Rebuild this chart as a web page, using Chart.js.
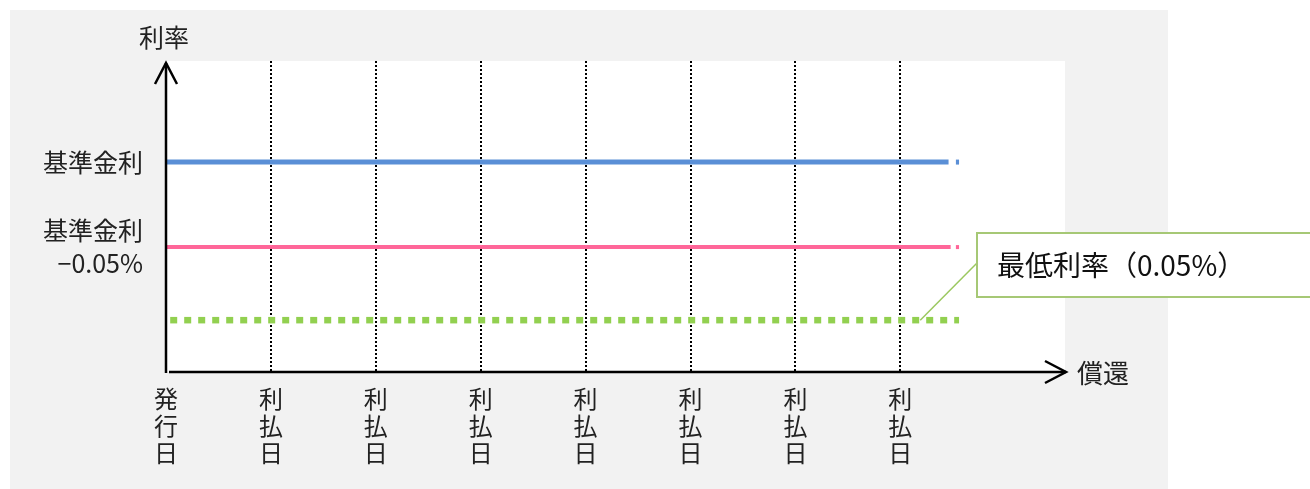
<!DOCTYPE html>
<html>
<head>
<meta charset="utf-8">
<script src="https://cdn.jsdelivr.net/npm/chart.js@4"></script>
<style>
  html, body { margin: 0; padding: 0; background: #ffffff; }
  #wrap { width: 1310px; height: 489px; }
</style>
</head>
<body>
<div id="wrap"><canvas id="myChart" width="1310" height="489"></canvas></div>
<script>
// 横軸の日付ラベル（発行日と利払日）
const fechas = ['発行日', '利払日', '利払日', '利払日', '利払日', '利払日', '利払日', '利払日'];
// 線の x 位置（利払間隔 = 1）
const tramoX = [0, 7.46, 7.53, 7.56];
const tramoRosaX = [0, 7.48, 7.53, 7.56];
const pisoX = [0.04, 7.56];
// 利率（相対値）
const tasaBase = [4.05, 4.05, 4.05, 4.05];
const tasaMenos = [2.41, 2.41, 2.41, 2.41];
const tasaPiso = [1.0, 1.0];
// 縦軸ラベル
const etiquetasY = [
    { value: 4.05, label: '基準金利' },
    { value: 2.41, label: ['基準金利', '−0.05%'] }
];
const tituloY = '利率';
const tituloX = '償還';
const textoNota = '最低利率（0.05%）';
const notaX = 7.19;

const fuente = '"Noto Sans CJK JP", "Noto Sans", sans-serif';

function puntos(xs, ys) {
    return xs.map(function (x, i) { return { x: x, y: ys[i] }; });
}

// 2番目の区間だけ透明にして、線末の小さな切れ目を再現
const huecoFinal = {
    borderColor: function (ctx) { return ctx.p0DataIndex === 1 ? 'rgba(0,0,0,0)' : undefined; }
};

const fondo = {
    id: 'fondo',
    beforeDraw: function (chart) {
        const c = chart.ctx;
        const a = chart.chartArea;
        c.save();
        c.fillStyle = '#f2f2f2';
        c.fillRect(10, 10, 1158, 479);
        c.fillStyle = '#ffffff';
        c.fillRect(a.left, a.top, a.right - a.left, a.bottom - a.top);
        c.restore();
    }
};

const ejes = {
    id: 'ejes',
    afterDraw: function (chart) {
        const c = chart.ctx;
        const a = chart.chartArea;
        const x0 = a.left;
        const y0 = a.bottom;
        c.save();
        c.strokeStyle = '#000000';
        c.lineWidth = 2.5;
        c.lineCap = 'butt';
        // 縦軸
        c.beginPath();
        c.moveTo(x0, y0 + 1);
        c.lineTo(x0, a.top + 2);
        c.stroke();
        c.beginPath();
        c.moveTo(x0 - 11, a.top + 23);
        c.lineTo(x0, a.top + 2);
        c.lineTo(x0 + 11, a.top + 23);
        c.stroke();
        // 横軸
        c.beginPath();
        c.moveTo(x0 + 3, y0);
        c.lineTo(a.right + 1, y0);
        c.stroke();
        c.beginPath();
        c.moveTo(a.right - 20, y0 - 11);
        c.lineTo(a.right + 1, y0);
        c.lineTo(a.right - 20, y0 + 11);
        c.stroke();

        c.fillStyle = '#222222';
        c.font = '25px ' + fuente;
        c.textBaseline = 'middle';
        c.textAlign = 'center';
        c.fillText(tituloY, x0 - 2, 37);
        c.textAlign = 'left';
        c.font = '26px ' + fuente;
        c.fillText(tituloX, a.right + 12, y0 + 1);

        // 最低利率の吹き出し
        const px = chart.scales.x.getPixelForValue(notaX);
        const py = chart.scales.y.getPixelForValue(tasaPiso[0]);
        const bx = 977, by = 233, bw = 340, bh = 64;
        c.strokeStyle = '#9bc85f';
        c.lineWidth = 1.5;
        c.beginPath();
        c.moveTo(px, py);
        c.lineTo(bx, by + bh / 2 - 2);
        c.stroke();
        c.fillStyle = '#ffffff';
        c.fillRect(bx, by, bw, bh);
        c.strokeStyle = '#a6c875';
        c.lineWidth = 2;
        c.strokeRect(bx, by, bw, bh);
        c.fillStyle = '#111111';
        c.font = '28px ' + fuente;
        c.fillText(textoNota, 997, by + bh / 2);
        c.restore();
    }
};

new Chart(document.getElementById('myChart').getContext('2d'), {
    type: 'line',
    data: {
        datasets: [
            {
                label: '基準金利',
                data: puntos(tramoX, tasaBase),
                borderColor: '#5a8fd6',
                borderWidth: 5,
                pointRadius: 0,
                segment: huecoFinal
            },
            {
                label: '基準金利-0.05%',
                data: puntos(tramoRosaX, tasaMenos),
                borderColor: '#ff6699',
                borderWidth: 4,
                pointRadius: 0,
                segment: huecoFinal
            },
            {
                label: '最低利率',
                data: puntos(pisoX, tasaPiso),
                borderColor: '#92d050',
                borderWidth: 6.5,
                borderDash: [7, 7],
                pointRadius: 0
            }
        ]
    },
    options: {
        responsive: false,
        animation: false,
        layout: { padding: { left: 0, top: 61, right: 245, bottom: 0 } },
        plugins: {
            legend: { display: false },
            tooltip: { enabled: false }
        },
        scales: {
            x: {
                type: 'linear',
                min: 0,
                max: 8.57,
                afterFit: function (s) { s.height = 117; },
                afterBuildTicks: function (s) {
                    s.ticks = fechas.map(function (_, i) { return { value: i }; });
                },
                grid: {
                    drawTicks: false,
                    lineWidth: 2,
                    color: function (ctx) { return ctx.tick && ctx.tick.value === 0 ? 'rgba(0,0,0,0)' : '#000000'; }
                },
                border: { display: false, dash: [2, 2] },
                ticks: {
                    autoSkip: false,
                    maxRotation: 0,
                    padding: 13,
                    color: '#222222',
                    font: { family: fuente, size: 24, lineHeight: 1.13 },
                    callback: function (v) { return fechas[v] ? fechas[v].split('') : null; }
                }
            },
            y: {
                min: 0,
                max: 6,
                afterFit: function (s) { s.width = 166; },
                afterBuildTicks: function (s) {
                    s.ticks = etiquetasY.map(function (t) { return { value: t.value }; });
                },
                grid: { display: false, drawTicks: false },
                border: { display: false },
                ticks: {
                    padding: 23,
                    color: '#222222',
                    font: { family: fuente, size: 25, lineHeight: 1.32 },
                    callback: function (v) {
                        const t = etiquetasY.find(function (e) { return e.value === v; });
                        return t ? t.label : null;
                    }
                }
            }
        }
    },
    plugins: [fondo, ejes]
});
</script>
</body>
</html>
